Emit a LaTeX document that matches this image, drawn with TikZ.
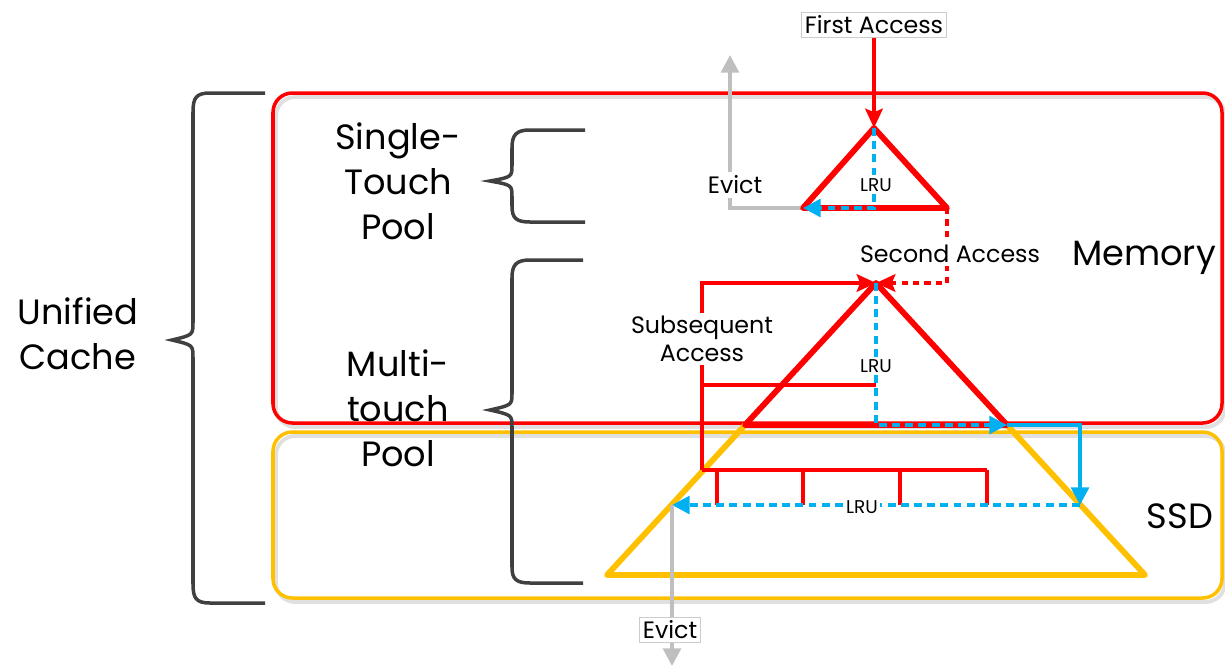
\documentclass[tikz,border=0pt]{standalone}
\usepackage{fontspec}
\setmainfont{Poppins}
\usetikzlibrary{arrows.meta}

\definecolor{memred}{RGB}{255,0,0}
\definecolor{ssdyellow}{RGB}{255,192,0}
\definecolor{lrublue}{RGB}{0,176,240}
\definecolor{evictgray}{RGB}{191,191,191}
\definecolor{bracegray}{RGB}{64,64,64}

\begin{document}
\begin{tikzpicture}[x=0.02cm, y=-0.02cm,
    bigtext/.style={font=\fontsize{20}{25.5}\selectfont, align=center},
    midtext/.style={font=\fontsize{13.5}{16}\selectfont, align=center, fill=white, inner sep=2pt},
    lrutext/.style={font=\fontsize{10.5}{12}\selectfont, fill=white, inner sep=1pt},
    tri/.style={memred, line width=3.3pt},
    ssdtri/.style={ssdyellow, line width=3.3pt},
    access/.style={memred, line width=2.1pt},
    second/.style={memred, line width=2.1pt, dash pattern=on 3.5pt off 3pt},
    lru/.style={lrublue, line width=2.2pt, dash pattern=on 4.5pt off 3pt},
    lrusolid/.style={lrublue, line width=2.2pt},
    evict/.style={evictgray, line width=2.2pt},
    bracket/.style={bracegray, line width=2pt},
    redtip/.style={-{Stealth[length=11pt, width=10pt, inset=2pt]}},
    bluetip/.style={-{Triangle[length=10pt, width=10pt]}},
    graytip/.style={-{Triangle[length=10pt, width=10pt]}}]
\useasboundingbox (0,0) rectangle (1225,664);

% tiers
\draw[black!12, line width=2.2pt, rounded corners=11pt] (276,97) rectangle (1225,427);
\draw[black!12, line width=2.2pt, rounded corners=11pt] (276,436) rectangle (1225,602);
\draw[memred, line width=2pt, rounded corners=11pt] (273,93) rectangle (1222,423);
\draw[ssdyellow, line width=2pt, rounded corners=11pt] (273,432) rectangle (1222,598);

% braces
\draw[bracket] (265,93) -- (210,93) .. controls (196,93) and (193,98) .. (193,112)
    -- (193,322) .. controls (193,335) .. (172,340) .. controls (193,345) .. (193,358)
    -- (193,584) .. controls (193,598) and (196,603) .. (210,603) -- (265,603);
\draw[bracket] (585,130) -- (530,130) .. controls (516,130) and (512,135) .. (512,148)
    -- (512,165) .. controls (512,177) .. (490,181) .. controls (512,185) .. (512,197)
    -- (512,206) .. controls (512,218) and (516,222) .. (530,222) -- (585,222);
\draw[bracket] (583,260) -- (530,260) .. controls (516,260) and (512,265) .. (512,278)
    -- (512,393) .. controls (512,405) .. (490,410) .. controls (512,415) .. (512,427)
    -- (512,567) .. controls (512,579) and (516,583) .. (530,583) -- (583,583);

\node[bigtext] (unified) at (78,334) {Unified\\Cache};
\node[bigtext] (single) at (398,181) {Single-\\Touch\\Pool};
\node[bigtext] (multi) at (398,408) {Multi-\\touch\\Pool};
\node[bigtext] (memory) at (1144,258) {Memory};
\node[bigtext] (ssd) at (1180,516) {SSD};

% single-touch pool
\coordinate (st) at (874,128);
\coordinate (stl) at (803,208);
\coordinate (str) at (947,208);
\coordinate (evtop) at (730,55);
\node[midtext, draw=black!20] (first) at (874,25) {First Access};
\draw[evict, graytip] (stl) -- (stl -| evtop) -- (evtop);
\node[midtext] (evict1) at (735,185) {Evict};
\draw[tri, line join=round] (st) -- (str) -- (stl) -- cycle;
\draw[access, redtip] (first) -- (st);
\draw[lru, bluetip] (st) -- (st |- stl) -- (stl);
\node[lrutext] (lru1) at (876,185) {LRU};

% multi-touch pool
\coordinate (mt) at (876,283);
\coordinate (ml) at (745,425);
\coordinate (mr) at (1007,425);
\coordinate (sl) at (607,575);
\coordinate (sr) at (1145,575);
\coordinate (bl) at (672,505);
\coordinate (br) at (1080,505);
\coordinate (bc) at (1080,425);
\coordinate (sa) at (702,470);

\draw[second, redtip] (str) -- (str |- mt) -- (mt);
\node[midtext] (secacc) at (950,254) {Second Access};
\draw[ssdtri, line join=round] (ml) -- (sl) -- (sr) -- (mr);
\draw[tri, line join=round] (ml) -- (mt) -- (mr) -- cycle;

\draw[access, redtip] (sa) -- (sa |- mt) -- (mt);
\draw[access] (702,385) -- (876,385);
\draw[access] (sa) -- (987,470);
\foreach \x in {717,803,900,987}
  \draw[access] (\x,470) -- (\x,505);
\node[midtext] (subacc) at (702,339) {Subsequent\\Access};

\draw[lru, bluetip] (mt) -- (mt |- ml) -- (mr);
\draw[lrusolid, bluetip] (mr) -- (bc) -- (br);
\draw[lru, bluetip] (br) -- (bl);
\node[lrutext] (lru2) at (876,366) {LRU};
\node[lrutext] (lru3) at (862,507) {LRU};

\draw[evict, graytip] (bl) -- (bl |- 0,666);
\node[midtext, draw=black!20] (evict2) at (670,630) {Evict};
\end{tikzpicture}
\end{document}
